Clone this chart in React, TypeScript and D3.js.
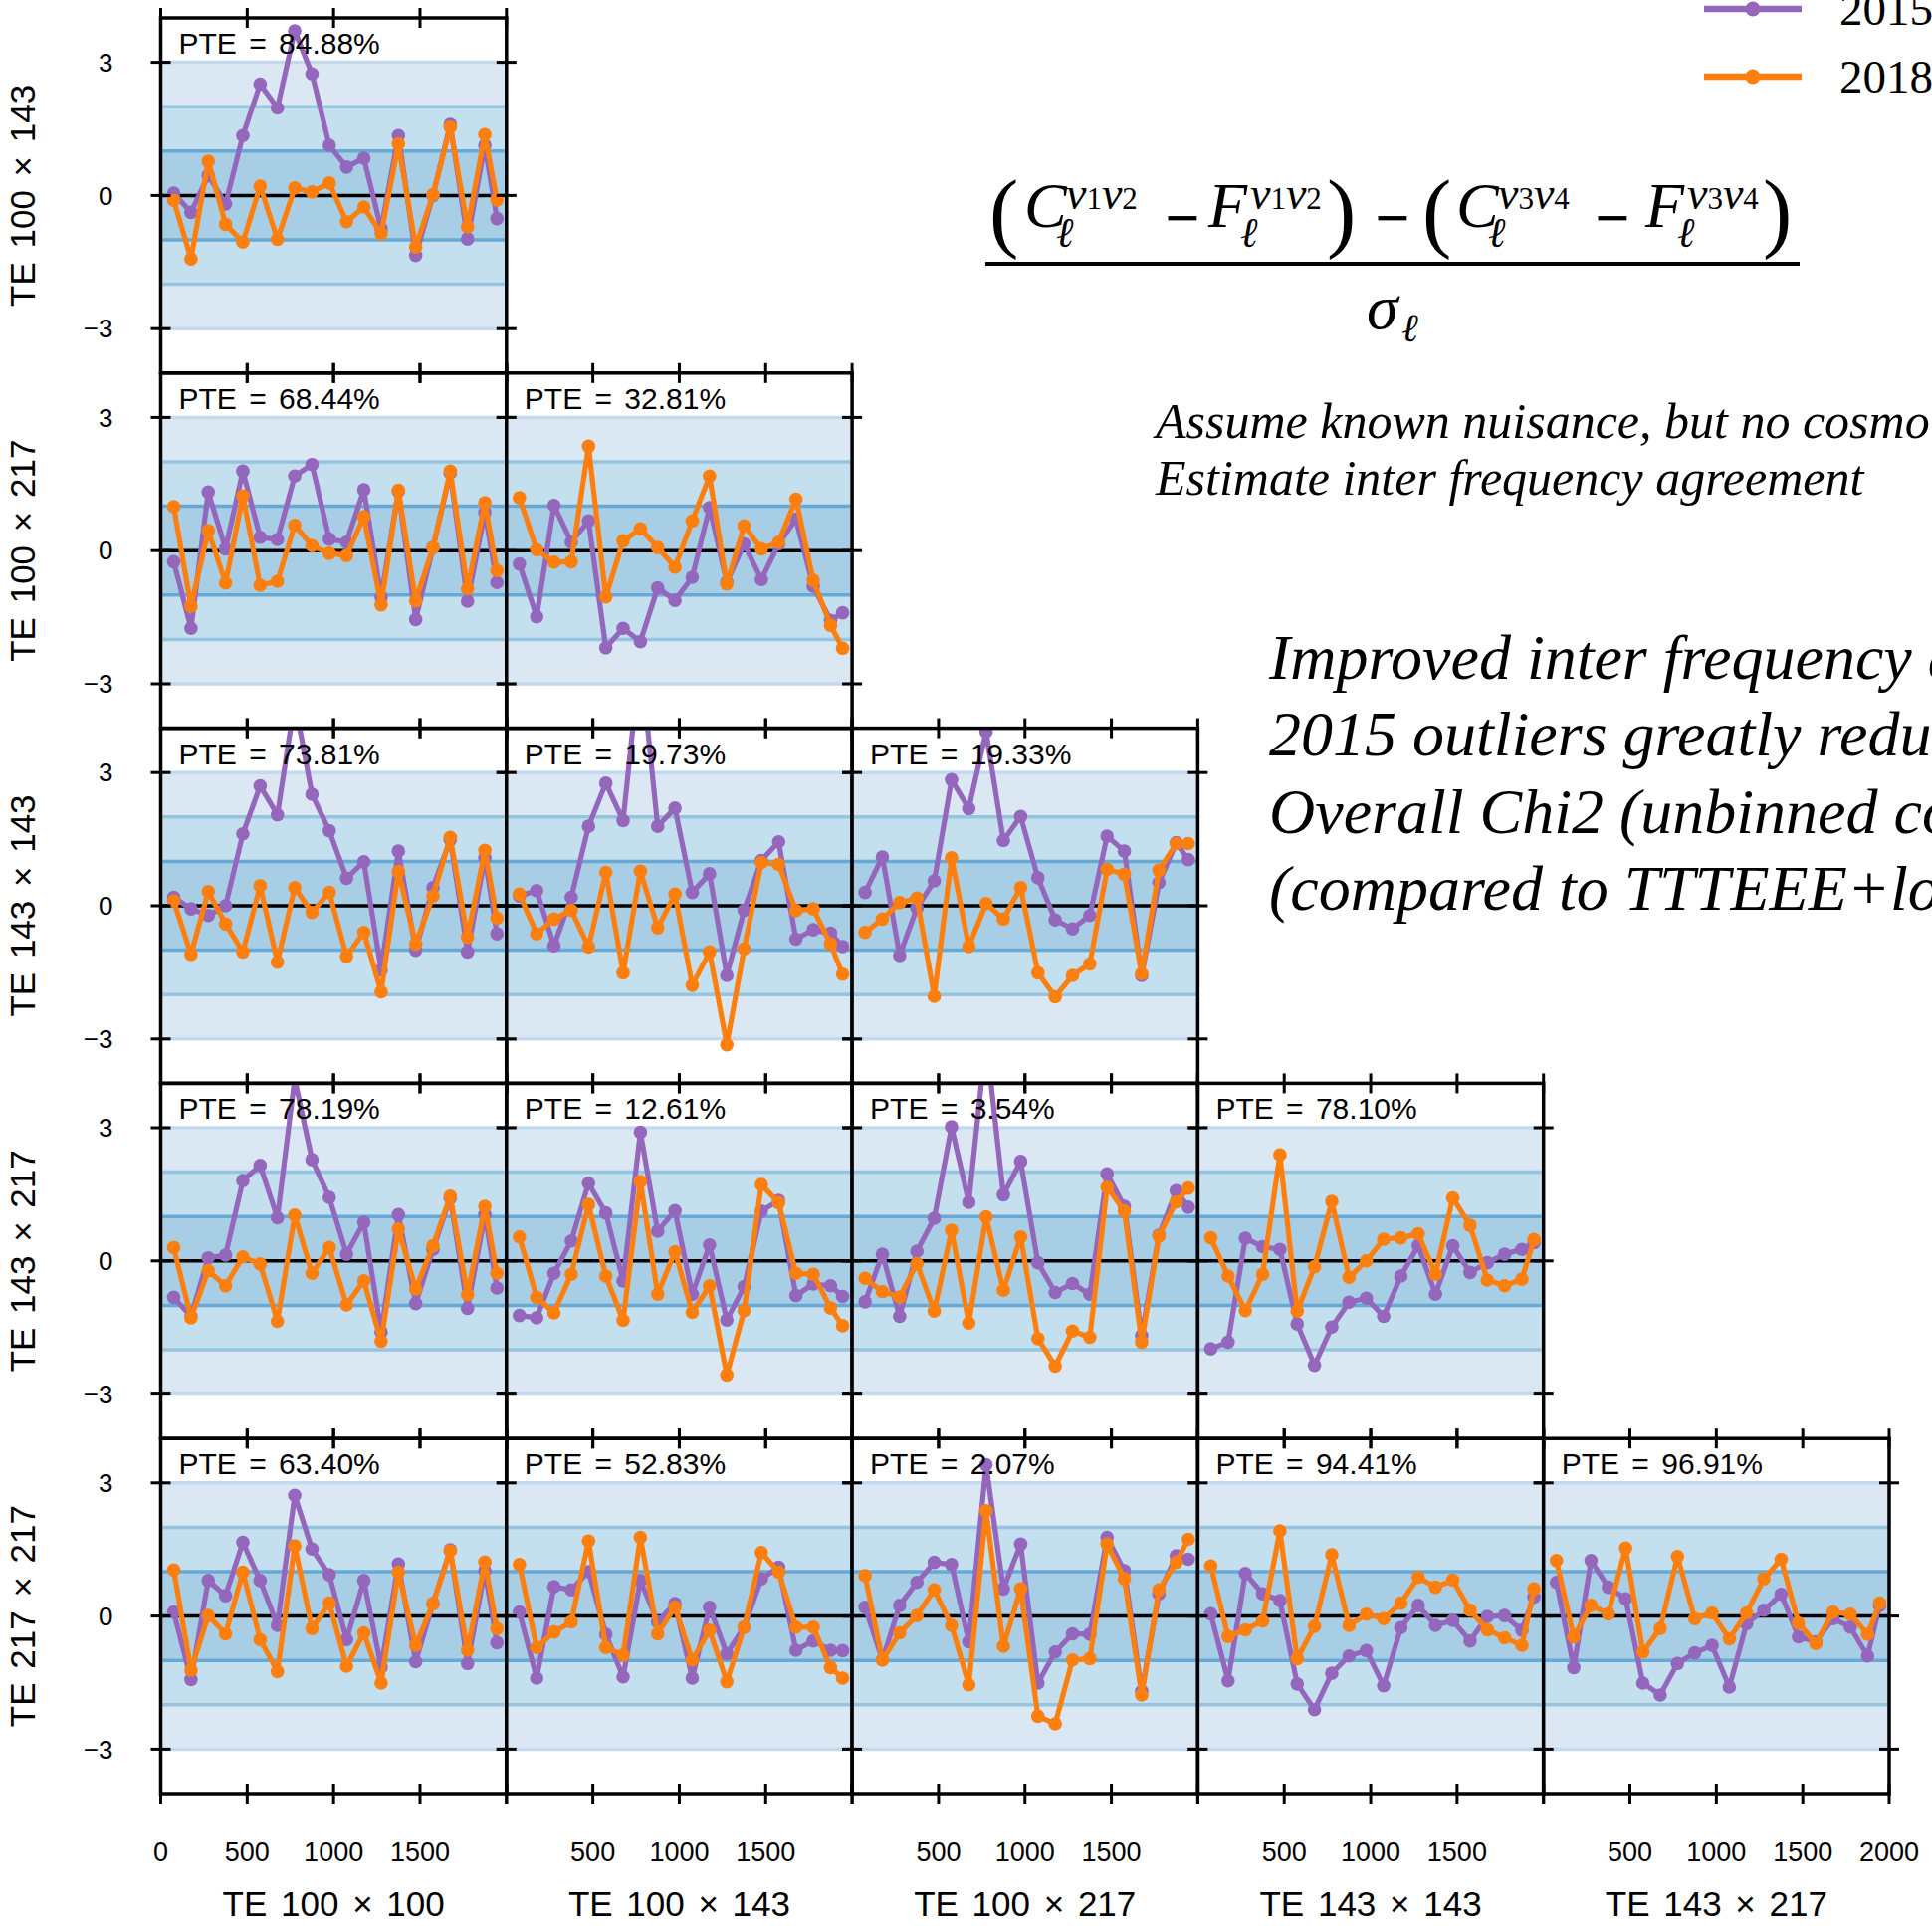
import React, { useEffect } from "react";
import * as d3 from "d3";

// multipole bin centres shared by every panel
const ells = [75, 175, 275, 375, 475, 575, 675, 775, 875, 975, 1075, 1175, 1275, 1375, 1475, 1575, 1675, 1775, 1875, 1945];

const rowLabels = ["TE 100 × 143", "TE 100 × 217", "TE 143 × 143", "TE 143 × 217", "TE 217 × 217"];
const colLabels = ["TE 100 × 100", "TE 100 × 143", "TE 100 × 217", "TE 143 × 143", "TE 143 × 217"];

const pteRow0 = [84.88];
const pteRow1 = [68.44, 32.81];
const pteRow2 = [73.81, 19.73, 19.33];
const pteRow3 = [78.19, 12.61, 3.54, 78.1];
const pteRow4 = [63.4, 52.83, 2.07, 94.41, 96.91];

// normalised residuals, panel pRC = row R, column C
const p00_2015 = [0.05, -0.38, 0.45, -0.19, 1.35, 2.51, 1.97, 3.71, 2.74, 1.13, 0.64, 0.84, -0.75, 1.35, -1.35, 0.0, 1.6, -0.98, 1.13, -0.52];
const p00_2018 = [-0.11, -1.43, 0.77, -0.65, -1.05, 0.21, -0.99, 0.17, 0.08, 0.28, -0.59, -0.26, -0.86, 1.16, -1.16, 0.02, 1.54, -0.71, 1.37, -0.1];

const p10_2015 = [-0.25, -1.75, 1.32, 0.04, 1.79, 0.3, 0.25, 1.68, 1.94, 0.26, 0.19, 1.37, -1.05, 1.34, -1.55, 0.07, 1.75, -1.14, 0.86, -0.72];
const p10_2018 = [0.99, -1.25, 0.45, -0.73, 1.23, -0.78, -0.69, 0.57, 0.11, -0.06, -0.11, 0.76, -1.22, 1.36, -1.13, 0.07, 1.79, -0.86, 1.08, -0.45];
const p11_2015 = [-0.3, -1.49, 1.02, 0.19, 0.67, -2.19, -1.75, -2.05, -0.84, -1.12, -0.6, 0.97, -0.71, 0.15, -0.65, 0.15, 0.71, -0.8, -1.57, -1.4];
const p11_2018 = [1.19, 0.02, -0.26, -0.25, 2.35, -1.04, 0.22, 0.49, 0.07, -0.37, 0.67, 1.68, -0.75, 0.56, 0.04, 0.19, 1.16, -0.67, -1.68, -2.2];

const p20_2015 = [0.19, -0.07, -0.22, 0.0, 1.62, 2.7, 2.05, 4.6, 2.51, 1.69, 0.62, 0.99, -1.45, 1.23, -1.0, 0.41, 1.49, -1.04, 1.08, -0.63];
const p20_2018 = [0.11, -1.1, 0.32, -0.41, -1.04, 0.45, -1.27, 0.41, -0.15, 0.3, -1.14, -0.6, -1.94, 0.77, -0.86, 0.22, 1.54, -0.71, 1.25, -0.28];
const p21_2015 = [0.22, 0.34, -0.9, 0.19, 1.79, 2.76, 1.92, 5.6, 1.79, 2.2, 0.3, 0.72, -1.57, -0.1, 1.02, 1.44, -0.75, -0.54, -0.62, -0.92];
const p21_2018 = [0.26, -0.63, -0.3, -0.1, -0.93, 0.75, -1.51, 0.78, -0.5, 0.26, -1.79, -1.04, -3.13, -0.97, 0.97, 0.93, -0.11, -0.07, -0.86, -1.54];
const p22_2015 = [0.3, 1.1, -1.12, -0.05, 0.56, 2.84, 2.19, 3.92, 1.47, 2.01, 0.63, -0.32, -0.52, -0.22, 1.57, 1.23, -1.57, 0.52, 1.42, 1.04];
const p22_2018 = [-0.6, -0.3, 0.07, 0.17, -2.04, 1.08, -0.92, 0.05, -0.3, 0.41, -1.51, -2.05, -1.57, -1.31, 0.82, 0.71, -1.53, 0.8, 1.4, 1.4];

const p30_2015 = [-0.82, -1.25, 0.07, 0.13, 1.81, 2.15, 0.97, 4.1, 2.28, 1.43, 0.15, 0.87, -1.6, 1.04, -0.96, 0.26, 1.42, -1.07, 1.04, -0.61];
const p30_2018 = [0.3, -1.28, -0.22, -0.56, 0.09, -0.07, -1.36, 1.03, -0.28, 0.3, -0.99, -0.45, -1.81, 0.72, -0.63, 0.34, 1.46, -0.76, 1.23, -0.28];
const p31_2015 = [-1.23, -1.28, -0.28, 0.45, 1.75, 1.08, -0.45, 2.9, 0.67, 1.13, -0.75, 0.36, -1.33, -0.58, 1.12, 1.36, -0.78, -0.52, -0.56, -0.8];
const p31_2018 = [0.54, -0.82, -1.17, -0.3, 1.27, -0.34, -1.34, 1.79, -0.75, 0.21, -1.16, -0.56, -2.57, -1.12, 1.72, 1.31, -0.28, -0.3, -1.06, -1.46];
const p32_2015 = [-0.92, 0.15, -1.25, 0.22, 0.96, 3.02, 1.32, 5.0, 1.49, 2.24, -0.04, -0.71, -0.51, -0.75, 1.96, 1.23, -1.68, 0.58, 1.58, 1.21];
const p32_2018 = [-0.39, -0.69, -0.81, -0.06, -1.13, 0.69, -1.4, 0.99, -0.66, 0.54, -1.75, -2.37, -1.58, -1.72, 1.66, 1.12, -1.83, 0.56, 1.33, 1.64];
const p33_2015 = [-1.98, -1.83, 0.51, 0.32, 0.26, -1.42, -2.35, -1.49, -0.93, -0.84, -1.25, -0.34, 0.34, -0.75, 0.34, -0.26, -0.04, 0.15, 0.26, 0.41];
const p33_2018 = [0.52, -0.34, -1.12, -0.3, 2.39, -1.13, -0.13, 1.34, -0.37, 0.0, 0.49, 0.52, 0.61, -0.3, 1.42, 0.8, -0.43, -0.56, -0.41, 0.48];

const p40_2015 = [0.09, -1.43, 0.8, 0.46, 1.66, 0.8, -0.21, 2.72, 1.51, 0.93, -0.53, 0.8, -1.15, 1.17, -1.03, 0.28, 1.49, -1.07, 1.02, -0.6];
const p40_2018 = [1.04, -1.22, 0.01, -0.4, 0.99, -0.53, -1.25, 1.58, -0.28, 0.29, -1.13, -0.38, -1.51, 0.99, -0.66, 0.28, 1.47, -0.77, 1.22, -0.28];
const p41_2015 = [0.09, -1.4, 0.66, 0.59, 1.0, -0.41, -1.37, 0.8, -0.13, 0.28, -1.4, 0.2, -0.85, -0.25, 0.84, 1.1, -0.77, -0.56, -0.77, -0.78];
const p41_2018 = [1.16, -0.71, -0.36, -0.13, 1.69, -0.71, -0.88, 1.77, -0.4, 0.2, -0.99, -0.32, -1.48, -0.25, 1.43, 0.99, -0.25, -0.25, -1.16, -1.4];
const p42_2015 = [0.2, -0.99, 0.24, 0.76, 1.21, 1.16, -0.58, 3.41, 0.61, 1.62, -1.51, -0.81, -0.4, -0.41, 1.77, 1.02, -1.7, 0.5, 1.36, 1.28];
const p42_2018 = [0.91, -0.99, -0.38, 0.01, 0.59, -0.21, -1.55, 2.37, -0.68, 0.61, -2.26, -2.43, -0.99, -0.96, 1.62, 0.84, -1.78, 0.59, 1.21, 1.73];
const p43_2015 = [0.05, -1.46, 0.96, 0.5, 0.35, -1.53, -2.11, -1.29, -0.9, -0.78, -1.57, -0.26, 0.24, -0.21, -0.1, -0.56, -0.01, 0.01, -0.32, 0.43];
const p43_2018 = [1.13, -0.46, -0.31, -0.11, 1.92, -0.96, -0.23, 1.38, -0.21, 0.04, -0.06, 0.29, 0.87, 0.65, 0.81, 0.13, -0.31, -0.49, -0.66, 0.61];
const p44_2015 = [0.76, -1.16, 1.25, 0.65, 0.39, -1.51, -1.78, -1.07, -0.83, -0.66, -1.6, -0.17, 0.13, 0.49, -0.47, -0.58, -0.06, -0.25, -0.9, 0.24];
const p44_2018 = [1.25, -0.47, 0.24, 0.05, 1.53, -0.81, -0.28, 1.34, -0.06, 0.07, -0.51, 0.07, 0.84, 1.28, -0.16, -0.62, 0.09, 0.04, -0.41, 0.29];

const xTickValues = [0, 500, 1000, 1500, 2000];
const yTickValues = [-3, 0, 3];

const panels = [
  { row: 0, col: 0, pte: pteRow0[0], a: p00_2015, b: p00_2018 },
  { row: 1, col: 0, pte: pteRow1[0], a: p10_2015, b: p10_2018 },
  { row: 1, col: 1, pte: pteRow1[1], a: p11_2015, b: p11_2018 },
  { row: 2, col: 0, pte: pteRow2[0], a: p20_2015, b: p20_2018 },
  { row: 2, col: 1, pte: pteRow2[1], a: p21_2015, b: p21_2018 },
  { row: 2, col: 2, pte: pteRow2[2], a: p22_2015, b: p22_2018 },
  { row: 3, col: 0, pte: pteRow3[0], a: p30_2015, b: p30_2018 },
  { row: 3, col: 1, pte: pteRow3[1], a: p31_2015, b: p31_2018 },
  { row: 3, col: 2, pte: pteRow3[2], a: p32_2015, b: p32_2018 },
  { row: 3, col: 3, pte: pteRow3[3], a: p33_2015, b: p33_2018 },
  { row: 4, col: 0, pte: pteRow4[0], a: p40_2015, b: p40_2018 },
  { row: 4, col: 1, pte: pteRow4[1], a: p41_2015, b: p41_2018 },
  { row: 4, col: 2, pte: pteRow4[2], a: p42_2015, b: p42_2018 },
  { row: 4, col: 3, pte: pteRow4[3], a: p43_2015, b: p43_2018 },
  { row: 4, col: 4, pte: pteRow4[4], a: p44_2015, b: p44_2018 },
];

const W = 1941;
const H = 1935;
const left0 = 161.5;
const colW = 347.3;
const top0 = 18;
const rowH = 356.8;

const purple = "#9467bd";
const orange = "#ff7f0e";
const sans = "'Liberation Sans', Arial, sans-serif";
const serif = "'Liberation Serif', 'Times New Roman', serif";

const bands = [
  { lo: -3, hi: 3, fill: "#dbe8f4", line: "#c3d9ee" },
  { lo: -2, hi: 2, fill: "#c4dfee", line: "#95c4df" },
  { lo: -1, hi: 1, fill: "#a8cee5", line: "#66a9d4" },
];

const Panel: React.FC<{ p: (typeof panels)[number] }> = ({ p }) => {
  const x0 = left0 + p.col * colW;
  const y0 = top0 + p.row * rowH;
  const x = d3.scaleLinear().domain([0, 2000]).range([x0, x0 + colW]);
  const y = d3.scaleLinear().domain([-4, 4]).range([y0 + rowH, y0]);
  const line = d3
    .line<number>()
    .x((_d, i) => x(ells[i]))
    .y((d) => y(d));
  const clipId = `clip-${p.row}-${p.col}`;
  const series = [
    { vals: p.a, color: purple },
    { vals: p.b, color: orange },
  ];
  return (
    <g>
      <clipPath id={clipId}>
        <rect x={x0} y={y0} width={colW} height={rowH} />
      </clipPath>
      {bands.map((b) => (
        <rect key={b.lo} x={x0} y={y(b.hi)} width={colW} height={y(b.lo) - y(b.hi)} fill={b.fill} />
      ))}
      {bands.map((b) =>
        [b.lo, b.hi].map((v) => (
          <line key={`${b.lo}-${v}`} x1={x0} x2={x0 + colW} y1={y(v)} y2={y(v)} stroke={b.line} strokeWidth={3.5} />
        )),
      )}
      <line x1={x0} x2={x0 + colW} y1={y(0)} y2={y(0)} stroke="#000" strokeWidth={3.5} />
      <g clipPath={`url(#${clipId})`}>
        {series.map((s) => (
          <g key={s.color}>
            <path d={line(s.vals) || ""} fill="none" stroke={s.color} strokeWidth={5.2} strokeLinejoin="round" />
            {s.vals.map((v, i) => (
              <circle key={i} cx={x(ells[i])} cy={y(v)} r={6.8} fill={s.color} />
            ))}
          </g>
        ))}
      </g>
      <rect x={x0} y={y0} width={colW} height={rowH} fill="none" stroke="#000" strokeWidth={3.5} />
      {xTickValues.map((t) =>
        [y0, y0 + rowH].map((yy) => (
          <line key={`${t}-${yy}`} x1={x(t)} x2={x(t)} y1={yy - 10} y2={yy + 10} stroke="#000" strokeWidth={3} />
        )),
      )}
      {yTickValues.map((t) =>
        [x0, x0 + colW].map((xx) => (
          <line key={`${t}-${xx}`} x1={xx - 10} x2={xx + 10} y1={y(t)} y2={y(t)} stroke="#000" strokeWidth={3} />
        )),
      )}
      <text x={x0 + 18} y={y0 + 36} fontFamily={sans} fontSize={30} wordSpacing={4} fill="#000">
        {`PTE = ${p.pte.toFixed(2)}%`}
      </text>
      {p.col === 0 &&
        yTickValues.map((t) => (
          <text key={t} x={x0 - 48} y={y(t)} dy="0.35em" textAnchor="end" fontFamily={sans} fontSize={26}>
            {t < 0 ? `−${-t}` : t}
          </text>
        ))}
      {p.row === 4 &&
        xTickValues
          .filter((t) => (t > 0 || p.col === 0) && (t < 2000 || p.col === 4))
          .map((t) => (
            <text key={t} x={x(t)} y={1870} textAnchor="middle" fontFamily={sans} fontSize={27}>
              {t}
            </text>
          ))}
    </g>
  );
};

// C / F with superscript nu pair and ell subscript
const Term: React.FC<{ x: number; letter: string; n1: string; n2: string }> = ({ x, letter, n1, n2 }) => (
  <g fontFamily={serif} fill="#000">
    <text x={x} y={228} fontSize={64} fontStyle="italic">
      {letter}
    </text>
    <text x={x + 42} y={210} fontSize={46}>
      <tspan fontStyle="italic">ν</tspan>
      <tspan fontSize={31}>{n1}</tspan>
      <tspan fontStyle="italic">ν</tspan>
      <tspan fontSize={31}>{n2}</tspan>
    </text>
    <text x={x + 32} y={248} fontSize={42} fontStyle="italic">
      ℓ
    </text>
  </g>
);

const App: React.FC = () => {
  useEffect(() => {
    document.body.style.margin = "0";
    document.body.style.overflow = "hidden";
  }, []);

  const paren = (x: number, ch: string) => (
    <text x={x} y={242} fontFamily={serif} fontSize={88} fill="#000">
      {ch}
    </text>
  );
  const minus = (cx: number) => (
    <text x={cx} y={240} textAnchor="middle" fontFamily={serif} fontSize={62} fontWeight="bold" fill="#000">
      −
    </text>
  );

  return (
    <svg width={W} height={H} viewBox={`0 0 ${W} ${H}`} style={{ position: "absolute", left: 0, top: 0, background: "#fff" }}>
      <rect x={0} y={0} width={W} height={H} fill="#fff" />
      {panels.map((p) => (
        <Panel key={`${p.row}-${p.col}`} p={p} />
      ))}

      {rowLabels.map((lab, r) => {
        const cy = top0 + r * rowH + rowH / 2;
        return (
          <text key={lab} transform={`translate(35,${cy}) rotate(-90)`} textAnchor="middle" fontFamily={sans} fontSize={35} wordSpacing={4}>
            {lab}
          </text>
        );
      })}
      {colLabels.map((lab, c) => (
        <text key={lab} x={left0 + c * colW + colW / 2} y={1925} textAnchor="middle" fontFamily={sans} fontSize={35} wordSpacing={4}>
          {lab}
        </text>
      ))}

      {/* legend */}
      {[
        { label: "2015", color: purple, y: 9 },
        { label: "2018", color: orange, y: 77 },
      ].map((l) => (
        <g key={l.label}>
          <line x1={1712} x2={1810} y1={l.y} y2={l.y} stroke={l.color} strokeWidth={6.5} />
          <circle cx={1761} cy={l.y} r={7.5} fill={l.color} />
          <text x={1848} y={l.y + 16} fontFamily={serif} fontSize={47}>
            {l.label}
          </text>
        </g>
      ))}

      {/* formula */}
      {paren(994, "(")}
      <Term x={1029} letter="C" n1="1" n2="2" />
      {minus(1188)}
      <Term x={1214} letter="F" n1="1" n2="2" />
      {paren(1333, ")")}
      {minus(1399)}
      {paren(1429, "(")}
      <Term x={1463} letter="C" n1="3" n2="4" />
      {minus(1620)}
      <Term x={1653} letter="F" n1="3" n2="4" />
      {paren(1771, ")")}
      <line x1={990} x2={1808} y1={265} y2={265} stroke="#000" strokeWidth={4} />
      <text x={1373} y={330} fontFamily={serif} fontSize={64} fontStyle="italic">
        σ
      </text>
      <text x={1408} y={343} fontFamily={serif} fontSize={40} fontStyle="italic">
        ℓ
      </text>

      <g fontFamily={serif} fontStyle="italic" fill="#000">
        <text x={1161} y={440} fontSize={50}>
          Assume known nuisance, but no cosmology
        </text>
        <text x={1161} y={497} fontSize={50}>
          Estimate inter frequency agreement
        </text>
        <text x={1275} y={682} fontSize={64}>
          Improved inter frequency agreement
        </text>
        <text x={1275} y={759} fontSize={64}>
          2015 outliers greatly reduced
        </text>
        <text x={1275} y={837} fontSize={64}>
          Overall Chi2 (unbinned covariance)
        </text>
        <text x={1275} y={914} fontSize={64}>
          (compared to TTTEEE+lowE)
        </text>
      </g>
    </svg>
  );
};

export default App;
